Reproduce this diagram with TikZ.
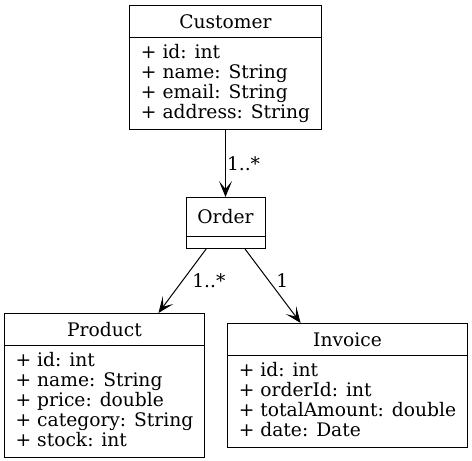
\documentclass[tikz,border=0pt]{standalone}
\usepackage{fontspec}
\setmainfont{DejaVu Serif}
\usetikzlibrary{arrows.meta,shapes.multipart,positioning}
\newcommand{\umlfont}{\fontsize{18.67}{20}\selectfont\lineskiplimit-20pt\relax}
\newcommand{\clsname}[1]{\rule[-3pt]{0pt}{20pt}#1}
\newcommand{\field}[1]{\rule[-5.5pt]{0pt}{20pt}+ #1}

\begin{document}
\begin{tikzpicture}[x=1pt,y=-1pt]
            \tikzstyle{every path}=[line width=1pt]
            \tikzstyle{umlclass}=[rectangle split, rectangle split parts=2, draw, align=left,
                rectangle split part align={center,left}, inner xsep=11pt, inner ysep=5.5pt,
                font=\umlfont]
            \tikzstyle{assoc}=[-{Stealth[length=16pt,width=13pt,inset=8pt]}]
            \tikzstyle{mult}=[right, inner sep=2pt, font=\umlfont]

            \useasboundingbox (0,0) rectangle (472,461);

            \node[umlclass, minimum width=191pt, anchor=north] (customer) at (225.5,5)
                {\clsname{Customer} \nodepart{two} \field{id: int}\\ \field{name: String}\\
                 \field{email: String}\\ \field{address: String}};
            \node[umlclass, align=none, minimum width=79pt, below=67pt of customer] (order)
                {\rule[-7pt]{0pt}{27pt}Order \nodepart{two}\rule{1pt}{0pt}};
            \node[umlclass, minimum width=199pt, anchor=north] (product) at (104.5,313)
                {\clsname{Product} \nodepart{two} \field{id: int}\\ \field{name: String}\\
                 \field{price: double}\\ \field{category: String}\\ \field{stock: int}};
            \node[umlclass, minimum width=239pt, anchor=north] (invoice) at (347.5,323)
                {\clsname{Invoice} \nodepart{two} \field{id: int}\\ \field{orderId: int}\\
                 \field{totalAmount: double}\\ \field{date: Date}};

            \draw[assoc] (customer) -- node[mult, inner sep=1pt] {1..*} (order);
            \draw[assoc] (order) -- node[mult, pos=.49, xshift=7pt] {1..*} (product);
            \draw[assoc] (order) -- node[mult, pos=.42, xshift=5.5pt] {1} (invoice);

\end{tikzpicture}
\end{document}
